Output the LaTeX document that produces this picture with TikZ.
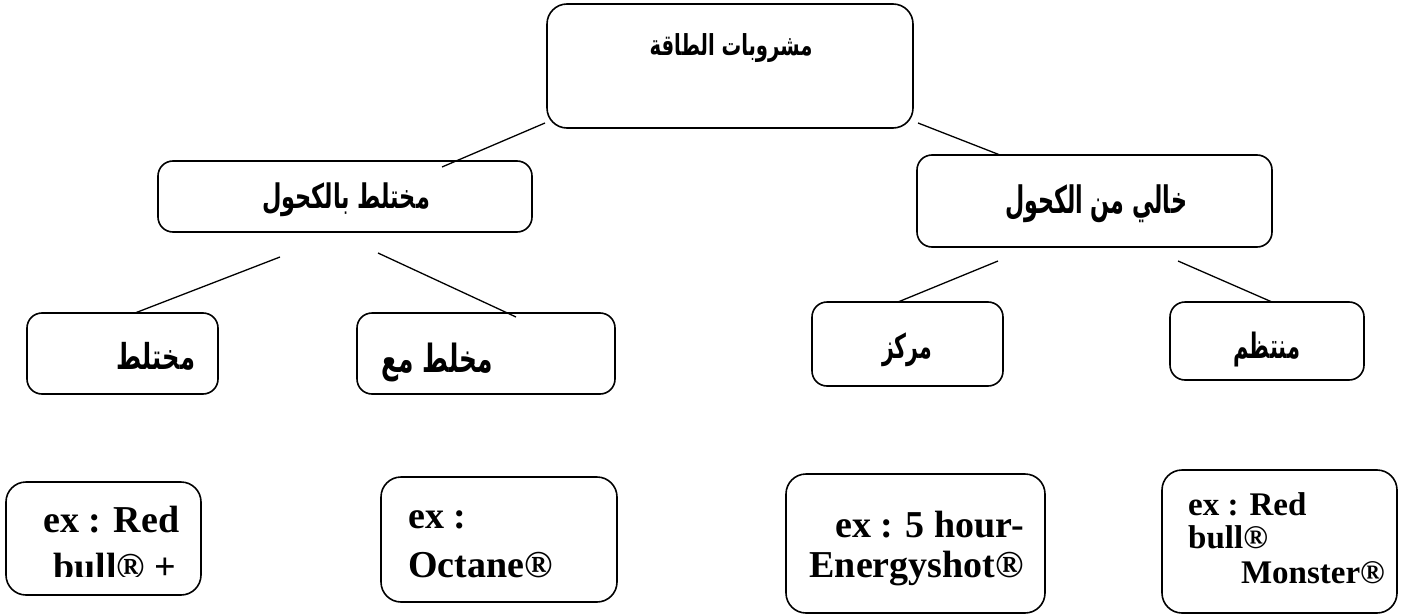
\documentclass[tikz,border=0pt]{standalone}
\usepackage{fontspec}
\usepackage{graphicx}
\setmainfont{Liberation Serif}
\newfontfamily\arabicfont[Script=Arabic]{DejaVu Sans}
\TeXXeTstate=1
\tikzset{
  box/.style={draw, line width=1.6pt, rounded corners=#1, inner sep=0pt},
  box/.default=15pt,
  link/.style={line width=1.3pt},
  ar/.style={inner sep=0pt, anchor=center, font=\arabicfont\bfseries},
  lat/.style={inner sep=0pt, font=\bfseries\fontsize{38}{40}\selectfont},
  latsm/.style={inner sep=0pt, font=\bfseries\fontsize{33}{34}\selectfont}
}
\begin{document}
\begin{tikzpicture}[x=1pt,y=-1pt]
\useasboundingbox (0,0) rectangle (1412,615);
% boxes
\node[box=20pt, minimum width=366pt, minimum height=124pt] (top) at (730,66) {};
\node[box, minimum width=374pt, minimum height=71pt] (lmid) at (345,196.5) {};
\node[box, minimum width=355pt, minimum height=92pt] (rmid) at (1094.5,201) {};
\node[box, minimum width=191pt, minimum height=81pt] (b1) at (122.5,353.5) {};
\node[box, minimum width=258pt, minimum height=81pt] (b2) at (486,353.5) {};
\node[box, minimum width=191pt, minimum height=84pt] (b3) at (907.5,344) {};
\node[box, minimum width=194pt, minimum height=78pt] (b4) at (1267,341) {};
\node[box=20pt, minimum width=195pt, minimum height=113pt] (eA) at (103.5,538.5) {};
\node[box=20pt, minimum width=236pt, minimum height=125pt] (eB) at (499,539.5) {};
\node[box=20pt, minimum width=259pt, minimum height=139pt] (eC) at (915.5,543.5) {};
\node[box=20pt, minimum width=235pt, minimum height=143pt] (eD) at (1279.5,541.5) {};
% arabic labels
\node[ar] (topt) at (731,48) {\resizebox*{163pt}{29pt}{\beginR مشروبات الطاقة\endR}};
\node[ar] (lmidt) at (346,200) {\resizebox*{168pt}{34pt}{\beginR مختلط بالكحول\endR}};
\node[ar] (rmidt) at (1096,204) {\resizebox*{182pt}{38pt}{\beginR خالي من الكحول\endR}};
\node[ar] (b1t) at (156,356) {\resizebox*{78pt}{28pt}{\beginR مختلط\endR}};
\node[ar] (b2t) at (437,362) {\resizebox*{111pt}{39pt}{\beginR مخلط مع\endR}};
\node[ar] (b3t) at (907,350) {\resizebox*{50pt}{34pt}{\beginR مركز\endR}};
\node[ar] (b4t) at (1267,350) {\resizebox*{67pt}{35pt}{\beginR منتظم\endR}};
% latin labels
\node[lat, anchor=base west] (eA1) at (43,532) {ex : Red};
\begin{scope}
\clip (0,540) rectangle (210,576);
\node[lat, anchor=base west] (eA2) at (53,579) {bull® +};
\end{scope}
\node[lat, anchor=base west] (eB1) at (408,528) {ex :};
\node[lat, anchor=base west] (eB2) at (408,577) {Octane®};
\node[lat, anchor=base east] (eC1) at (1024,537) {ex : 5 hour-};
\node[lat, anchor=base east] (eC2) at (1024,577) {Energyshot®};
\node[latsm, anchor=base west] (eD1) at (1188,515) {ex : Red};
\node[latsm, anchor=base west] (eD2) at (1188,548) {bull®};
\node[latsm, anchor=base east] (eD3) at (1385,583) {Monster®};
% connector ends
\coordinate (p1) at (545,123);
\coordinate (q1) at (442,167);
\coordinate (p2) at (918,123);
\coordinate (q2) at (1000,155);
\coordinate (p3) at (280,257);
\coordinate (q3) at (135,313);
\coordinate (p4) at (378,253);
\coordinate (q4) at (516,317);
\coordinate (p5) at (998,261);
\coordinate (q5) at (898,302);
\coordinate (p6) at (1178,261);
\coordinate (q6) at (1272,302);
\draw[link] (p1) -- (q1);
\draw[link] (p2) -- (q2);
\draw[link] (p3) -- (q3);
\draw[link] (p4) -- (q4);
\draw[link] (p5) -- (q5);
\draw[link] (p6) -- (q6);
\end{tikzpicture}
\end{document}
